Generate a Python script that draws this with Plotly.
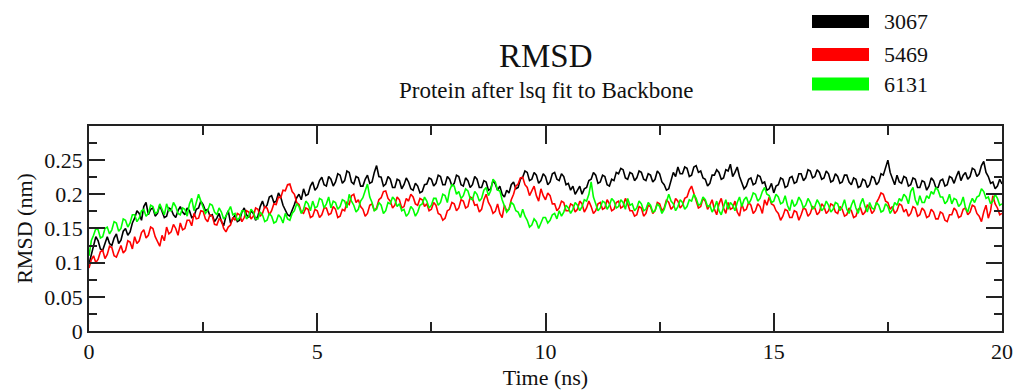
import plotly.graph_objects as go

# ---------------- data ----------------
series_names = ["3067", "5469", "6131"]
series_colors = ["#000000", "#ff0000", "#00ff00"]

# one frame every 0.05 ns, 0 .. 20 ns
time_ns = [round(i * 0.05, 2) for i in range(401)]

rmsd_3067 = [
    0.098, 0.112, 0.125, 0.138, 0.132, 0.120, 0.118, 0.130, 0.138, 0.128, 0.125, 0.136, 0.142, 0.128, 0.133, 0.146, 0.150, 0.140, 0.145, 0.158,
    0.165, 0.176, 0.172, 0.162, 0.182, 0.188, 0.170, 0.178, 0.180, 0.168, 0.172, 0.184, 0.176, 0.166, 0.168, 0.180, 0.178, 0.170, 0.166, 0.176,
    0.182, 0.174, 0.170, 0.180, 0.176, 0.166, 0.168, 0.178, 0.180, 0.190, 0.185, 0.176, 0.178, 0.168, 0.170, 0.160, 0.165, 0.172, 0.160, 0.154,
    0.168, 0.176, 0.158, 0.164, 0.170, 0.160, 0.162, 0.174, 0.180, 0.170, 0.166, 0.176, 0.172, 0.162, 0.168, 0.182, 0.190, 0.180, 0.184, 0.196,
    0.198, 0.188, 0.190, 0.202, 0.196, 0.184, 0.178, 0.170, 0.168, 0.176, 0.185, 0.195, 0.200, 0.192, 0.208, 0.198, 0.200, 0.212, 0.218, 0.206,
    0.210, 0.220, 0.225, 0.214, 0.212, 0.226, 0.222, 0.212, 0.218, 0.230, 0.228, 0.216, 0.220, 0.234, 0.232, 0.218, 0.215, 0.226, 0.224, 0.212,
    0.212, 0.222, 0.228, 0.216, 0.218, 0.232, 0.242, 0.226, 0.225, 0.212, 0.215, 0.226, 0.222, 0.210, 0.210, 0.222, 0.220, 0.208, 0.214, 0.224,
    0.218, 0.208, 0.206, 0.216, 0.212, 0.202, 0.204, 0.214, 0.215, 0.224, 0.222, 0.212, 0.216, 0.228, 0.226, 0.214, 0.214, 0.226, 0.222, 0.212,
    0.216, 0.228, 0.226, 0.214, 0.212, 0.224, 0.220, 0.210, 0.214, 0.226, 0.222, 0.210, 0.210, 0.220, 0.218, 0.206, 0.208, 0.220, 0.215, 0.206,
    0.212, 0.200, 0.196, 0.206, 0.202, 0.214, 0.218, 0.208, 0.210, 0.222, 0.225, 0.234, 0.232, 0.220, 0.222, 0.232, 0.228, 0.216, 0.220, 0.230,
    0.226, 0.214, 0.218, 0.230, 0.232, 0.222, 0.220, 0.230, 0.226, 0.214, 0.216, 0.206, 0.212, 0.200, 0.205, 0.212, 0.200, 0.208, 0.210, 0.220,
    0.222, 0.232, 0.228, 0.216, 0.218, 0.228, 0.226, 0.214, 0.212, 0.222, 0.220, 0.232, 0.230, 0.238, 0.236, 0.224, 0.222, 0.232, 0.230, 0.220,
    0.224, 0.234, 0.232, 0.222, 0.220, 0.230, 0.228, 0.218, 0.222, 0.234, 0.230, 0.218, 0.214, 0.206, 0.208, 0.222, 0.232, 0.226, 0.240, 0.230,
    0.230, 0.240, 0.238, 0.226, 0.228, 0.240, 0.242, 0.232, 0.234, 0.224, 0.222, 0.212, 0.216, 0.228, 0.228, 0.236, 0.232, 0.222, 0.224, 0.236,
    0.234, 0.244, 0.226, 0.232, 0.240, 0.226, 0.218, 0.208, 0.212, 0.222, 0.224, 0.214, 0.216, 0.228, 0.226, 0.216, 0.218, 0.206, 0.208, 0.216,
    0.202, 0.212, 0.214, 0.224, 0.222, 0.210, 0.212, 0.224, 0.226, 0.216, 0.218, 0.230, 0.230, 0.220, 0.224, 0.236, 0.234, 0.224, 0.226, 0.236,
    0.232, 0.222, 0.224, 0.234, 0.230, 0.218, 0.220, 0.230, 0.226, 0.216, 0.218, 0.228, 0.228, 0.218, 0.214, 0.224, 0.222, 0.210, 0.212, 0.222,
    0.220, 0.210, 0.214, 0.226, 0.224, 0.214, 0.218, 0.230, 0.228, 0.240, 0.250, 0.232, 0.222, 0.214, 0.228, 0.218, 0.216, 0.226, 0.224, 0.212,
    0.214, 0.224, 0.222, 0.210, 0.210, 0.220, 0.218, 0.206, 0.212, 0.224, 0.220, 0.210, 0.210, 0.220, 0.222, 0.212, 0.214, 0.226, 0.224, 0.216,
    0.226, 0.234, 0.220, 0.228, 0.232, 0.222, 0.226, 0.238, 0.236, 0.226, 0.230, 0.242, 0.248, 0.232, 0.226, 0.216, 0.218, 0.208, 0.212, 0.222,
    0.215,
]

rmsd_5469 = [
    0.092, 0.104, 0.110, 0.100, 0.105, 0.116, 0.118, 0.106, 0.112, 0.124, 0.122, 0.110, 0.108, 0.118, 0.125, 0.114, 0.118, 0.132, 0.130, 0.120,
    0.138, 0.128, 0.132, 0.144, 0.148, 0.136, 0.140, 0.152, 0.150, 0.138, 0.130, 0.124, 0.140, 0.132, 0.152, 0.142, 0.145, 0.156, 0.150, 0.140,
    0.158, 0.148, 0.150, 0.162, 0.162, 0.154, 0.172, 0.164, 0.165, 0.176, 0.175, 0.164, 0.160, 0.170, 0.168, 0.156, 0.155, 0.164, 0.162, 0.150,
    0.145, 0.152, 0.155, 0.166, 0.162, 0.172, 0.170, 0.160, 0.166, 0.176, 0.174, 0.164, 0.168, 0.180, 0.178, 0.168, 0.172, 0.182, 0.180, 0.170,
    0.176, 0.186, 0.185, 0.196, 0.195, 0.206, 0.205, 0.214, 0.215, 0.204, 0.200, 0.188, 0.185, 0.174, 0.172, 0.180, 0.178, 0.166, 0.168, 0.178,
    0.176, 0.166, 0.170, 0.180, 0.180, 0.170, 0.172, 0.182, 0.178, 0.166, 0.168, 0.178, 0.176, 0.188, 0.185, 0.198, 0.200, 0.188, 0.192, 0.182,
    0.178, 0.168, 0.172, 0.184, 0.186, 0.176, 0.180, 0.192, 0.195, 0.204, 0.205, 0.194, 0.190, 0.180, 0.184, 0.196, 0.192, 0.180, 0.182, 0.194,
    0.190, 0.200, 0.196, 0.186, 0.184, 0.194, 0.192, 0.182, 0.186, 0.176, 0.178, 0.188, 0.184, 0.172, 0.170, 0.162, 0.165, 0.176, 0.178, 0.188,
    0.186, 0.176, 0.180, 0.192, 0.190, 0.180, 0.182, 0.196, 0.194, 0.184, 0.185, 0.174, 0.178, 0.192, 0.200, 0.188, 0.182, 0.172, 0.175, 0.186,
    0.172, 0.166, 0.184, 0.176, 0.178, 0.192, 0.200, 0.212, 0.215, 0.224, 0.225, 0.214, 0.210, 0.198, 0.205, 0.212, 0.198, 0.190, 0.208, 0.198,
    0.192, 0.202, 0.198, 0.186, 0.186, 0.176, 0.180, 0.190, 0.188, 0.176, 0.176, 0.186, 0.184, 0.174, 0.178, 0.190, 0.186, 0.174, 0.180, 0.190,
    0.182, 0.172, 0.176, 0.186, 0.188, 0.178, 0.180, 0.192, 0.186, 0.176, 0.178, 0.188, 0.190, 0.180, 0.182, 0.194, 0.186, 0.176, 0.176, 0.168,
    0.170, 0.182, 0.180, 0.168, 0.172, 0.184, 0.182, 0.172, 0.176, 0.188, 0.186, 0.176, 0.180, 0.192, 0.188, 0.178, 0.182, 0.194, 0.190, 0.180,
    0.184, 0.194, 0.196, 0.206, 0.212, 0.200, 0.192, 0.180, 0.182, 0.194, 0.190, 0.178, 0.184, 0.192, 0.178, 0.170, 0.186, 0.194, 0.180, 0.172,
    0.188, 0.178, 0.180, 0.190, 0.174, 0.168, 0.186, 0.176, 0.178, 0.188, 0.184, 0.172, 0.176, 0.186, 0.182, 0.172, 0.192, 0.184, 0.196, 0.186,
    0.184, 0.176, 0.172, 0.162, 0.168, 0.178, 0.176, 0.166, 0.166, 0.176, 0.174, 0.162, 0.170, 0.180, 0.178, 0.168, 0.172, 0.182, 0.180, 0.170,
    0.174, 0.186, 0.182, 0.172, 0.176, 0.186, 0.184, 0.174, 0.172, 0.182, 0.178, 0.168, 0.170, 0.180, 0.176, 0.166, 0.168, 0.178, 0.180, 0.170,
    0.174, 0.184, 0.182, 0.172, 0.176, 0.188, 0.194, 0.202, 0.200, 0.190, 0.188, 0.178, 0.182, 0.172, 0.176, 0.186, 0.184, 0.174, 0.178, 0.168,
    0.172, 0.182, 0.180, 0.168, 0.170, 0.180, 0.176, 0.166, 0.168, 0.178, 0.174, 0.164, 0.164, 0.174, 0.172, 0.162, 0.160, 0.170, 0.170, 0.180,
    0.176, 0.166, 0.168, 0.178, 0.180, 0.170, 0.174, 0.184, 0.182, 0.172, 0.168, 0.160, 0.174, 0.184, 0.165, 0.176, 0.198, 0.186, 0.180, 0.170,
    0.172,
]

rmsd_6131 = [
    0.110, 0.132, 0.140, 0.150, 0.148, 0.136, 0.138, 0.150, 0.152, 0.142, 0.148, 0.160, 0.158, 0.146, 0.150, 0.164, 0.162, 0.152, 0.158, 0.170,
    0.170, 0.160, 0.165, 0.176, 0.178, 0.168, 0.172, 0.184, 0.182, 0.172, 0.174, 0.186, 0.178, 0.170, 0.186, 0.176, 0.176, 0.188, 0.182, 0.172,
    0.170, 0.180, 0.178, 0.168, 0.186, 0.194, 0.176, 0.188, 0.200, 0.190, 0.182, 0.172, 0.176, 0.186, 0.184, 0.174, 0.170, 0.180, 0.174, 0.164,
    0.168, 0.176, 0.182, 0.170, 0.172, 0.162, 0.166, 0.176, 0.176, 0.164, 0.168, 0.178, 0.174, 0.164, 0.164, 0.174, 0.170, 0.160, 0.162, 0.172,
    0.168, 0.158, 0.160, 0.170, 0.166, 0.158, 0.172, 0.164, 0.162, 0.172, 0.176, 0.186, 0.182, 0.172, 0.178, 0.190, 0.186, 0.176, 0.190, 0.180,
    0.182, 0.194, 0.192, 0.180, 0.186, 0.196, 0.180, 0.190, 0.188, 0.178, 0.182, 0.192, 0.190, 0.180, 0.200, 0.190, 0.184, 0.174, 0.178, 0.190,
    0.195, 0.205, 0.215, 0.196, 0.188, 0.176, 0.178, 0.188, 0.184, 0.172, 0.176, 0.188, 0.186, 0.196, 0.192, 0.182, 0.186, 0.176, 0.178, 0.168,
    0.172, 0.182, 0.178, 0.168, 0.174, 0.184, 0.186, 0.196, 0.190, 0.180, 0.184, 0.194, 0.194, 0.184, 0.188, 0.200, 0.198, 0.188, 0.206, 0.214,
    0.212, 0.200, 0.204, 0.194, 0.198, 0.208, 0.205, 0.194, 0.192, 0.204, 0.200, 0.190, 0.194, 0.206, 0.210, 0.198, 0.205, 0.222, 0.218, 0.206,
    0.205, 0.192, 0.184, 0.174, 0.178, 0.188, 0.185, 0.176, 0.174, 0.166, 0.178, 0.168, 0.162, 0.152, 0.155, 0.164, 0.160, 0.150, 0.158, 0.166,
    0.166, 0.158, 0.162, 0.170, 0.172, 0.164, 0.176, 0.168, 0.174, 0.184, 0.180, 0.172, 0.178, 0.188, 0.184, 0.176, 0.182, 0.192, 0.190, 0.200,
    0.218, 0.196, 0.186, 0.176, 0.180, 0.190, 0.188, 0.178, 0.184, 0.194, 0.190, 0.180, 0.182, 0.192, 0.188, 0.178, 0.194, 0.184, 0.186, 0.176,
    0.180, 0.190, 0.186, 0.176, 0.178, 0.188, 0.184, 0.174, 0.176, 0.186, 0.182, 0.172, 0.178, 0.188, 0.200, 0.190, 0.186, 0.176, 0.182, 0.192,
    0.188, 0.178, 0.182, 0.192, 0.190, 0.200, 0.194, 0.184, 0.186, 0.196, 0.192, 0.182, 0.184, 0.174, 0.180, 0.190, 0.176, 0.170, 0.182, 0.192,
    0.178, 0.188, 0.184, 0.176, 0.188, 0.196, 0.182, 0.192, 0.196, 0.186, 0.192, 0.202, 0.200, 0.190, 0.194, 0.204, 0.210, 0.200, 0.198, 0.188,
    0.190, 0.200, 0.196, 0.186, 0.188, 0.198, 0.184, 0.176, 0.192, 0.182, 0.186, 0.196, 0.190, 0.180, 0.184, 0.194, 0.188, 0.178, 0.182, 0.192,
    0.186, 0.176, 0.180, 0.190, 0.184, 0.174, 0.178, 0.188, 0.186, 0.176, 0.182, 0.192, 0.178, 0.172, 0.184, 0.192, 0.180, 0.172, 0.186, 0.194,
    0.182, 0.174, 0.188, 0.180, 0.178, 0.188, 0.184, 0.174, 0.176, 0.186, 0.182, 0.172, 0.178, 0.188, 0.184, 0.194, 0.190, 0.200, 0.196, 0.186,
    0.204, 0.210, 0.192, 0.184, 0.198, 0.188, 0.188, 0.198, 0.194, 0.204, 0.200, 0.210, 0.206, 0.196, 0.196, 0.186, 0.190, 0.200, 0.186, 0.194,
    0.192, 0.182, 0.186, 0.196, 0.180, 0.174, 0.186, 0.194, 0.188, 0.196, 0.198, 0.208, 0.204, 0.194, 0.196, 0.186, 0.190, 0.200, 0.194, 0.184,
    0.186,
]

title_text = "RMSD"
subtitle_text = "Protein after lsq fit to Backbone"
x_title = "Time (ns)"
y_title = "RMSD (nm)"

# ---------------- figure ----------------
FONT = "Liberation Serif"
W, H = 1016, 390
L, R, T, B = 89, 14, 126, 59
PW, PH = W - L - R, H - T - B


def px_x(px):
    return (px - L) / PW


def px_y(py):
    return (H - B - py) / PH


fig = go.Figure()
for name, color, ys in zip(series_names, series_colors, [rmsd_3067, rmsd_5469, rmsd_6131]):
    fig.add_trace(go.Scatter(x=time_ns, y=ys, mode="lines", name=name,
                             line=dict(color=color, width=1.6), showlegend=False))

axis_common = dict(
    showline=True, linecolor="#222222", linewidth=1.5, mirror="allticks",
    ticks="inside", tickcolor="#222222", tickwidth=1.5,
    showgrid=False, zeroline=False, automargin=False,
    tickfont=dict(family=FONT, size=22, color="#111111"),
)

fig.update_xaxes(range=[0, 20], dtick=5, tick0=0, ticklen=18,
                 minor=dict(dtick=2.5, ticklen=9, ticks="inside", tickcolor="#222222", tickwidth=1.5),
                 title=dict(text=x_title, font=dict(family=FONT, size=22, color="#111111"), standoff=6),
                 **axis_common)
fig.update_yaxes(range=[0, 0.2999], dtick=0.05, tick0=0, ticklen=16,
                 minor=dict(dtick=0.025, ticklen=8, ticks="inside", tickcolor="#222222", tickwidth=1.5),
                 title=dict(text=y_title, font=dict(family=FONT, size=22, color="#111111"), standoff=6),
                 **axis_common)

annotations = [
    dict(text=title_text, x=0.5, y=px_y(56), xref="paper", yref="paper",
         xanchor="center", yanchor="middle", showarrow=False,
         font=dict(family=FONT, size=33, color="#111111")),
    dict(text=subtitle_text, x=0.5, y=px_y(90), xref="paper", yref="paper",
         xanchor="center", yanchor="middle", showarrow=False,
         font=dict(family=FONT, size=23, color="#111111")),
]
shapes = []
legend_rows = [21.5, 54.5, 84]
for name, color, cy in zip(series_names, series_colors, legend_rows):
    shapes.append(dict(type="rect", xref="paper", yref="paper",
                       x0=px_x(812), x1=px_x(869), y0=px_y(cy - 6.5), y1=px_y(cy + 6.5),
                       fillcolor=color, line=dict(width=0)))
    annotations.append(dict(text=name, x=px_x(882), y=px_y(cy), xref="paper", yref="paper",
                            xanchor="left", yanchor="middle", showarrow=False,
                            font=dict(family=FONT, size=22, color="#111111")))

fig.update_layout(
    width=W, height=H,
    margin=dict(l=L, r=R, t=T, b=B),
    paper_bgcolor="white", plot_bgcolor="white",
    showlegend=False,
    annotations=annotations, shapes=shapes,
)

fig.write_html("out.html")
